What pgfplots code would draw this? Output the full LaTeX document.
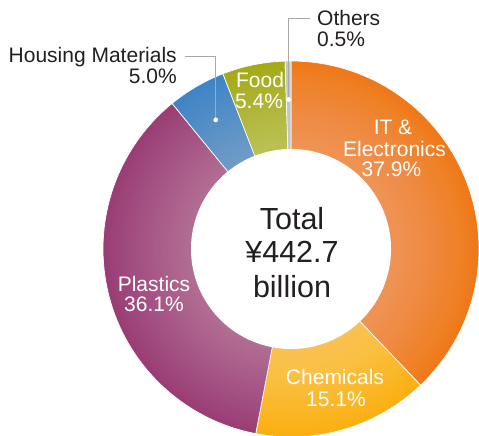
\documentclass[border=0pt]{standalone}
\usepackage{pgfplots}
\pgfplotsset{compat=1.18}
\usepackage{fontspec}
\setmainfont{Liberation Sans}
\definecolor{itD}{HTML}{EF7818}
\definecolor{chD}{HTML}{FAB012}
\definecolor{plD}{HTML}{9A3D74}
\definecolor{hoD}{HTML}{4084C6}
\definecolor{foD}{HTML}{A4AA16}
\definecolor{otD}{HTML}{C4C4C4}
\definecolor{txt}{HTML}{231F20}
\definecolor{lead}{HTML}{A8A8A8}
\begin{document}
\begin{tikzpicture}[x=1pt,y=1pt]
\useasboundingbox (0,0) rectangle (479,436);
\begin{axis}[at={(291pt,187pt)}, anchor=origin, x=188pt, y=188pt,
  xmin=-1, xmax=1, ymin=-1, ymax=1, hide axis, clip=false]
\gdef\astart{90}
\foreach \v/\cd/\nm in {37.9/itD/IT, 15.1/chD/Chem, 36.1/plD/Plast, 5.0/hoD/House, 5.4/foD/Food, 0.5/otD/Other}{%
  \pgfmathsetmacro\aend{\astart-3.6*\v}%
  \pgfmathsetmacro\amid{(\astart+\aend)/2}%
  \pgfmathsetmacro\dx{0.795*cos(\amid)}%
  \pgfmathsetmacro\dy{0.795*sin(\amid)}%
  \edef\temp{\noexpand\addplot[draw=white, line width=0.7pt, fill=\cd, domain=\aend:\astart, samples=90] ({cos(x)},{sin(x)}) -- (axis cs:0,0) -- cycle;
    \noexpand\coordinate (dot\nm) at (axis cs:\dx,\dy);}%
  \temp
  \xdef\astart{\aend}%
}
\end{axis}
% radial lightening of the ring (stacked translucent discs)
\foreach \i in {0,...,23}{%
  \pgfmathsetmacro\rr{188*(0.54+0.44*\i/23)}%
  \fill[white, fill opacity=0.014] (291,187) circle (\rr);
}
\begin{axis}[at={(291pt,187pt)}, anchor=origin, x=188pt, y=188pt,
  xmin=-1, xmax=1, ymin=-1, ymax=1, hide axis, clip=false]
\addplot[draw=none, fill=white, domain=0:360, samples=180] ({0.532*cos(x)},{0.532*sin(x)}) -- cycle;
\end{axis}
% center text
\begin{scope}[every node/.style={text=txt, font=\fontsize{30.5}{34}\selectfont, anchor=base, inner sep=0pt}]
\node at (292,206) {Total};
\node at (292,173) {¥442.7};
\node at (292,138) {billion};
\end{scope}
% slice labels
\begin{scope}[every node/.style={text=white, font=\fontsize{21}{24}\selectfont, anchor=base, inner sep=0pt}]
\node at (393,301) {IT \&};
\node at (394.5,279) {Electronics};
\node at (391.5,259) {37.9\%};
\node at (335,51) {Chemicals};
\node at (336,29) {15.1\%};
\node at (154,144) {Plastics};
\node at (154,124) {36.1\%};
\node at (260,348) {Food};
\node at (259,327) {5.4\%};
\end{scope}
% outside labels
\begin{scope}[every node/.style={text=txt, font=\fontsize{21}{24}\selectfont, inner sep=0pt}]
\node[anchor=base east] at (177,373) {Housing Materials};
\node[anchor=base east] at (177,352) {5.0\%};
\node[anchor=base west] at (317,410) {Others};
\node[anchor=base west] at (317,389) {0.5\%};
\end{scope}
% leaders
\draw[lead, line width=1pt] (185,379) -| (dotHouse);
\draw[lead, line width=1pt] (310,417) -| (dotOther);
\fill[white] (dotHouse) circle (2.4);
\fill[white] (dotOther) circle (2.4);
\end{tikzpicture}
\end{document}
